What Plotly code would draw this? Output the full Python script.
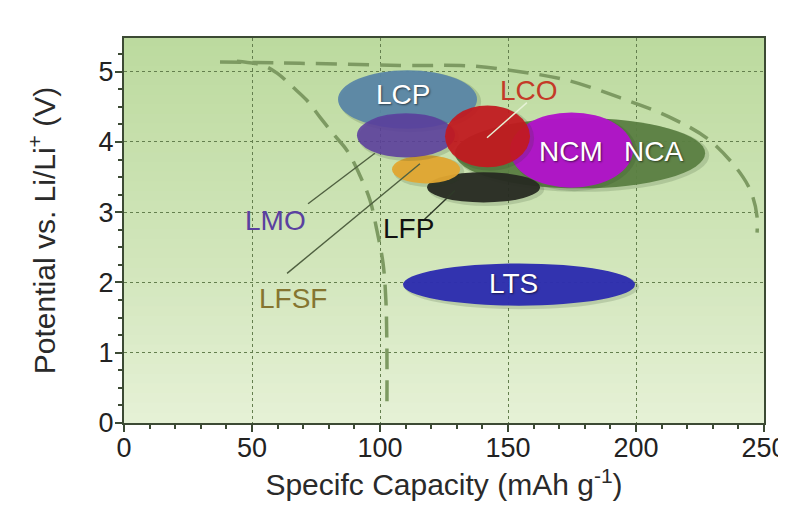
import plotly.graph_objects as go

# ---------------- data ----------------
materials = ["NCA", "LCP", "LFP", "LFSF", "LMO", "NCM", "LCO", "LTS"]   # drawing order
cap_min = [129.3, 83.6, 118.4, 104.7, 91.0, 150.8, 125.4, 109.0]      # mAh/g
cap_max = [227.0, 137.9, 162.5, 131.3, 129.3, 198.8, 158.6, 199.6]
volt_min = [3.34, 4.19, 3.14, 3.41, 3.78, 3.35, 3.64, 1.67]           # V vs Li/Li+
volt_max = [4.34, 5.02, 3.57, 3.81, 4.41, 4.42, 4.52, 2.27]

# dashed guide curves
outer_cap = [37.5, 68.75, 107.8, 136.3, 154.7, 173.0, 193.75, 213.3, 228.9, 241.8, 245.7, 247.3, 247.3]
outer_volt = [5.14, 5.12, 5.09, 5.08, 5.00, 4.88, 4.63, 4.35, 4.02, 3.50, 3.21, 2.93, 2.71]
inner_cap = [44.1, 54.3, 59.8, 66.0, 71.5, 76.6, 81.6, 87.1, 92.2, 96.1, 98.8, 101.2, 102.3, 102.7, 102.7]
inner_volt = [5.15, 5.09, 4.98, 4.78, 4.59, 4.35, 4.12, 3.88, 3.52, 3.17, 2.74, 2.27, 1.74, 1.03, 0.15]

x_ticks = [0, 50, 100, 150, 200, 250]
y_ticks = [0, 1, 2, 3, 4, 5]

# ---------------- styles ----------------
fill = {"NCA": "#5b7f42", "LCP": "#5a86a6", "LFP": "#272a22", "LFSF": "#e2a630",
        "LMO": "#5b3d9e", "NCM": "#b214c9", "LCO": "#c3191f", "LTS": "#2d2db0"}
opac = {"NCA": 0.95, "LCP": 0.95, "LFP": 0.95, "LFSF": 0.95,
        "LMO": 0.88, "NCM": 0.97, "LCO": 0.93, "LTS": 0.97}

# label placement (layout, not data)
label_pos = {"LCP": (108.8, 4.67), "LCO": (158.2, 4.73), "NCM": (174.6, 3.87),
             "NCA": (207.0, 3.87), "LMO": (59.0, 2.88), "LFSF": (66.0, 1.77),
             "LFP": (111.0, 2.77), "LTS": (152.3, 1.98)}
label_col = {"LCP": "white", "LCO": "#c43a28", "NCM": "white", "NCA": "white",
             "LMO": "#5a40a0", "LFSF": "#857530", "LFP": "#111111", "LTS": "white"}
leaders = {"LMO": ((71.9, 3.12), (98.0, 3.84), "#4f6040"),
           "LFSF": ((63.7, 2.13), (115.6, 3.69), "#4f6040"),
           "LFP": ((116.8, 2.88), (129.3, 3.31), "#2f3a28"),
           "LCO": ((157.4, 4.56), (141.8, 4.06), "#e6f2d6")}

FONT = "Arial, Liberation Sans, sans-serif"


def lerp_color(stops, t):
    for (t0, c0), (t1, c1) in zip(stops[:-1], stops[1:]):
        if t0 <= t <= t1:
            f = (t - t0) / (t1 - t0) if t1 > t0 else 0
            c = [round(a + (b - a) * f) for a, b in zip(c0, c1)]
            return "rgb(%d,%d,%d)" % tuple(c)
    return "rgb(%d,%d,%d)" % stops[-1][1]


W, H = 778, 508   # page body adds an 8px margin

fig = go.Figure()

shapes = []
# outer paper gradient (top -> bottom)
outer_stops = [(0.0, (166, 203, 138)), (0.5, (192, 219, 168)), (0.8, (222, 235, 205)), (1.0, (245, 248, 240))]
N = 40
top = 1 - 2 / H
for i in range(N):
    y1 = top - top * i / N
    y0 = top - top * (i + 1) / N
    shapes.append(dict(type="rect", xref="paper", yref="paper", x0=0, x1=1,
                       y0=y0, y1=y1 + 0.002, fillcolor=lerp_color(outer_stops, (i + 0.5) / N),
                       line=dict(width=0), layer="below"))
# inner plot-area gradient
inner_stops = [(0.0, (188, 218, 158)), (0.6, (210, 230, 188)), (1.0, (230, 241, 214))]
for i in range(N):
    y1 = 1 - i / N
    y0 = 1 - (i + 1) / N
    shapes.append(dict(type="rect", xref="x domain", yref="y domain", x0=0, x1=1,
                       y0=y0, y1=min(1, y1 + 0.003), fillcolor=lerp_color(inner_stops, (i + 0.5) / N),
                       line=dict(width=0), layer="below"))

# material ellipses (with a soft shadow), between grid and traces
for m, x0, x1, y0, y1 in zip(materials, cap_min, cap_max, volt_min, volt_max):
    shapes.append(dict(type="circle", xref="x", yref="y", x0=x0 + 0.6, x1=x1 + 1.6,
                       y0=y0 - 0.05, y1=y1 - 0.01, fillcolor="rgba(40,60,30,0.16)",
                       line=dict(width=0), layer="between"))
    shapes.append(dict(type="circle", xref="x", yref="y", x0=x0, x1=x1, y0=y0, y1=y1,
                       fillcolor=fill[m], opacity=opac[m], line=dict(width=0), layer="between"))

# dashed guide curves
for cx, cy in ((outer_cap, outer_volt), (inner_cap, inner_volt)):
    fig.add_trace(go.Scatter(x=cx, y=cy, mode="lines", hoverinfo="skip", showlegend=False,
                             line=dict(color="#7d9a62", width=3.5, dash="21px,11px",
                                       shape="spline", smoothing=1.0)))

# leader lines
for m, (tail, tip, col) in leaders.items():
    fig.add_trace(go.Scatter(x=[tail[0], tip[0]], y=[tail[1], tip[1]], mode="lines",
                             hoverinfo="skip", showlegend=False,
                             line=dict(color=col, width=1.4)))

annotations = []
for m in materials:
    lx, ly = label_pos[m]
    white = label_col[m] == "white"
    annotations.append(dict(x=lx, y=ly, xref="x", yref="y", text=m, showarrow=False,
                            font=dict(family=FONT, size=28, color=label_col[m],
                                      shadow="1px 1px 2px rgba(0,0,0,0.55)" if white else "none")))

fig.update_layout(
    width=W, height=H,
    margin=dict(l=116, r=22, t=30, b=93, autoexpand=False),
    paper_bgcolor="white",
    plot_bgcolor="rgba(0,0,0,0)",
    shapes=shapes,
    annotations=annotations,
    showlegend=False,
    font=dict(family=FONT, color="#222222"),
)

axis_common = dict(showline=True, linecolor="#3c4a34", linewidth=2, mirror=True,
                   ticks="outside", tickcolor="#3c4a34", tickwidth=1.5, ticklen=7,
                   showgrid=True, gridcolor="#647f4e", gridwidth=1.2, griddash="3px,3px",
                   zeroline=False, ticklabeloverflow="allow", automargin=False,
                   tickfont=dict(family=FONT, size=27, color="#222222"))

fig.update_xaxes(range=[0, 250], tickvals=x_ticks, ticktext=[str(v) for v in x_ticks],
                 ticklabelstandoff=-7,
                 minor=dict(dtick=10, ticks="outside", ticklen=4, tickcolor="#3c4a34", showgrid=False),
                 title=dict(text="Specifc Capacity (mAh g<sup>-1</sup>)", standoff=12,
                            font=dict(family=FONT, size=30, color="#2a2a2a")),
                 **axis_common)
fig.update_yaxes(range=[0, 5.48], tickvals=y_ticks, ticktext=[str(v) for v in y_ticks],
                 ticklabelstandoff=-4,
                 minor=dict(dtick=0.25, ticks="outside", ticklen=4, tickcolor="#3c4a34", showgrid=False),
                 title=dict(text="Potential vs. Li/Li<sup>+</sup> (V)", standoff=34,
                            font=dict(family=FONT, size=30, color="#2a2a2a")),
                 **axis_common)

fig.write_html("out.html")
